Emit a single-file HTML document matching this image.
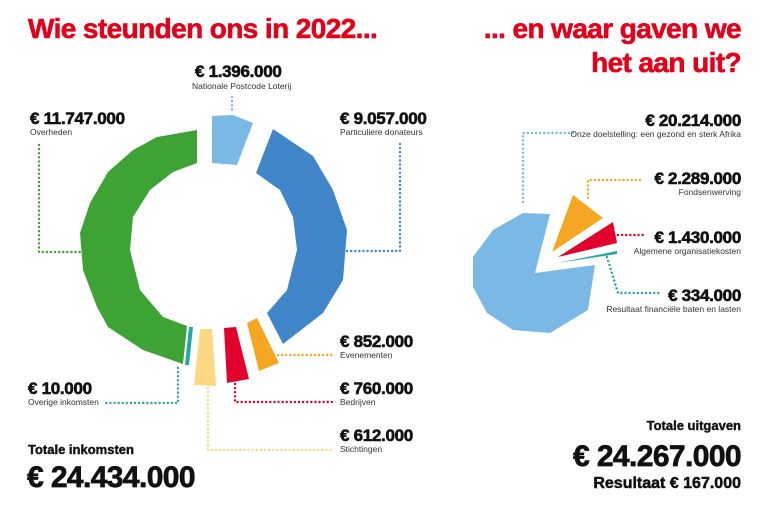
<!DOCTYPE html>
<html><head><meta charset="utf-8"><style>
html,body{margin:0;padding:0;background:#fff;width:774px;height:515px;overflow:hidden}
svg{display:block;font-family:"Liberation Sans",Arial,sans-serif}
.t{fill:#e2001a;font-weight:bold;font-size:28px;letter-spacing:-0.6px;stroke:#e2001a;stroke-width:0.6}
.v{font-weight:bold;font-size:17px;fill:#111;letter-spacing:-0.3px;stroke:#111;stroke-width:0.6}
.s{font-size:8.5px;fill:#333}
.d{fill:none;stroke-width:2.4;stroke-dasharray:0.1 4;stroke-linecap:round}
.b{stroke:#111;stroke-width:0.7}
</style></head><body>
<svg width="774" height="515" viewBox="0 0 774 515">
<text class="t" x="28" y="38">Wie steunden ons in 2022...</text>
<text class="t" x="741" y="38" text-anchor="end">... en waar gaven we</text>
<text class="t" x="741" y="72" text-anchor="end">het aan uit?</text>

<polygon fill="#7ab8e6" points="212,116 233,115 253,123 237,165 212,163"/>
<polygon fill="#3f85c8" points="273,129 313,156 333,190 347,230 343,280 323,313 283,344 267,313 287,290 297,250 293,217 280,190 256,173"/>
<polygon fill="#3da335" points="197,130 157,137 133,150 108,172 90,203 80,233 83,270 97,307 108,327 143,350 183,364 187,326 163,317 140,290 130,250 133,217 150,190 173,172 197,163"/>
<polygon fill="#2aa5a5" points="189,327 193,327 189,365 185,365"/>
<polygon fill="#fdd783" points="200,329 212,329 216,386 194,385"/>
<polygon fill="#e2002d" points="224,328 236,327 249,379 227,383"/>
<polygon fill="#f5a623" points="247,323 257,318 279,363 259,371"/>

<polyline class="d" stroke="#7ab8e6" points="232,97 232,112"/>
<polyline class="d" stroke="#3da335" points="39,145 39,252 80,252"/>
<polyline class="d" stroke="#3f85c8" points="347,251 400,251 400,142"/>
<polyline class="d" stroke="#f5a623" points="278,355 332,355"/>
<polyline class="d" stroke="#e2002d" points="235,384 235,402 332,402"/>
<polyline class="d" stroke="#fdd783" points="208,388 208,450 332,450"/>
<polyline class="d" stroke="#2aa5a5" points="178,368 178,403 103,403"/>

<text class="v" x="195" y="77">€ 1.396.000</text>
<text class="s" x="192" y="89">Nationale Postcode Loterij</text>
<text class="v" x="30" y="124">€ 11.747.000</text>
<text class="s" x="30" y="135">Overheden</text>
<text class="v" x="340" y="124">€ 9.057.000</text>
<text class="s" x="340" y="135">Particuliere donateurs</text>
<text class="v" x="340" y="347">€ 852.000</text>
<text class="s" x="340" y="358">Evenementen</text>
<text class="v" x="340" y="394">€ 760.000</text>
<text class="s" x="340" y="405">Bedrijven</text>
<text class="v" x="340" y="441">€ 612.000</text>
<text class="s" x="340" y="452">Stichtingen</text>
<text class="v" x="28" y="394">€ 10.000</text>
<text class="s" x="28" y="405">Overige inkomsten</text>
<text x="28" y="454" font-weight="bold" font-size="13" fill="#111" class="b" style="stroke-width:0.4">Totale inkomsten</text>
<text x="27" y="487" font-weight="bold" font-size="30" fill="#111" letter-spacing="-0.6" class="b">€ 24.434.000</text>

<polygon fill="#7ab8e6" points="523,213 550,214 535,273 595,265 588,310 550,333 513,330 487,313 473,287 473,257 493,230"/>
<polygon fill="#f5a623" points="573,195 603,218 552,252"/>
<polygon fill="#e2002d" points="613,222 617,243 558,257"/>
<polygon fill="#2aa5a5" points="617,251 617,254 557,263"/>

<polyline class="d" stroke="#7ab8e6" points="573,133 523,133 523,205"/>
<polyline class="d" stroke="#f5a623" points="640,180 588,180 588,200"/>
<polyline class="d" stroke="#e2002d" points="618,235 645,235"/>
<polyline class="d" stroke="#2aa5a5" points="607,257 618,293 660,293"/>

<g text-anchor="end">
<text class="v" x="741" y="126">€ 20.214.000</text>
<text class="s" x="741" y="137">Onze doelstelling: een gezond en sterk Afrika</text>
<text class="v" x="741" y="184">€ 2.289.000</text>
<text class="s" x="741" y="195">Fondsenwerving</text>
<text class="v" x="741" y="243">€ 1.430.000</text>
<text class="s" x="741" y="254">Algemene organisatiekosten</text>
<text class="v" x="741" y="301">€ 334.000</text>
<text class="s" x="741" y="312">Resultaat financiële baten en lasten</text>
<text x="741" y="430" font-weight="bold" font-size="13" fill="#111" class="b" style="stroke-width:0.4">Totale uitgaven</text>
<text x="741" y="466" font-weight="bold" font-size="30" fill="#111" letter-spacing="-0.6" class="b">€ 24.267.000</text>
<text x="741" y="488" font-weight="bold" font-size="16" fill="#111" class="b" style="stroke-width:0.5">Resultaat € 167.000</text>
</g>
</svg>
</body></html>
